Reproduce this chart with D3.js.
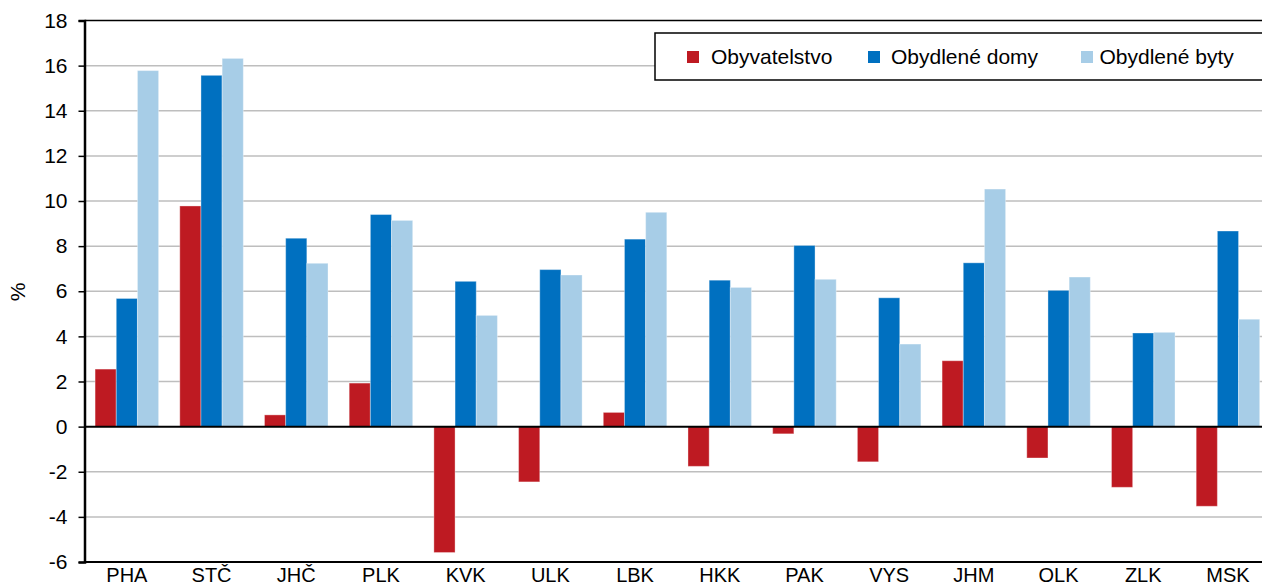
<!DOCTYPE html>
<html>
<head>
<meta charset="utf-8">
<script src="https://cdn.jsdelivr.net/npm/d3@7"></script>
<style>
  body { margin: 0; background: #fff; }
  text { font-family: "Liberation Sans", Arial, sans-serif; fill: #000; }
</style>
</head>
<body>
<div class="render"></div>
<script>
// kraje
var categories = ["PHA", "STČ", "JHČ", "PLK", "KVK", "ULK", "LBK", "HKK", "PAK", "VYS", "JHM", "OLK", "ZLK", "MSK"];
var seriesNames = ["Obyvatelstvo", "Obydlené domy", "Obydlené byty"];
var obyvatelstvo = [2.55, 9.78, 0.52, 1.93, -5.58, -2.45, 0.63, -1.76, -0.32, -1.56, 2.92, -1.39, -2.69, -3.53];
var domy = [5.68, 15.57, 8.35, 9.4, 6.44, 6.96, 8.31, 6.49, 8.03, 5.71, 7.26, 6.04, 4.15, 8.67];
var byty = [15.78, 16.32, 7.24, 9.14, 4.93, 6.72, 9.5, 6.17, 6.53, 3.66, 10.53, 6.63, 4.18, 4.76];
var yTicks = [-6, -4, -2, 0, 2, 4, 6, 8, 10, 12, 14, 16, 18];
var colors = ["#BE1A22", "#0070C0", "#A7CDE7"];

var width = 1262, height = 587;
var left = 84.5, top_ = 20.5, bottom = 562;
var bandW = 84.7;
var fontSize = "21px";

var svg = d3.select(".render").append("svg")
    .attr("width", width)
    .attr("height", height);

var x = d3.scaleBand()
    .domain(categories)
    .range([left, left + bandW * categories.length])
    .paddingInner(0.25)
    .paddingOuter(0.125);

var xs = d3.scaleBand()
    .domain(seriesNames)
    .range([0, x.bandwidth()]);

var y = d3.scaleLinear()
    .domain([-6, 18])
    .range([bottom, top_]);

// grid
svg.append("g")
  .selectAll("line")
  .data(yTicks.filter(function (d) { return d !== 0 && d !== -6 && d !== 18; }))
  .enter().append("line")
    .attr("x1", left)
    .attr("x2", width)
    .attr("y1", function (d) { return y(d); })
    .attr("y2", function (d) { return y(d); })
    .attr("stroke", "#BEBEBE")
    .attr("stroke-width", 1.5);

// top border
svg.append("line")
    .attr("x1", left).attr("x2", width)
    .attr("y1", y(18)).attr("y2", y(18))
    .attr("stroke", "#000").attr("stroke-width", 1.5);

// bars
var data = categories.map(function (c, i) {
    return { cat: c, values: [obyvatelstvo[i], domy[i], byty[i]] };
});

var groups = svg.append("g").selectAll("g")
    .data(data)
    .enter().append("g")
    .attr("transform", function (d) { return "translate(" + x(d.cat) + ",0)"; });

groups.selectAll("rect")
    .data(function (d) {
        return d.values.map(function (v, k) { return { key: seriesNames[k], value: v, k: k }; });
    })
    .enter().append("rect")
    .attr("x", function (d) { return xs(d.key); })
    .attr("width", xs.bandwidth())
    .attr("y", function (d) { return y(Math.max(0, d.value)); })
    .attr("height", function (d) { return Math.abs(y(d.value) - y(0)); })
    .attr("fill", function (d) { return colors[d.k]; })
    .attr("stroke", "#fff")
    .attr("stroke-opacity", 0.35)
    .attr("stroke-width", 1);

// zero line
svg.append("line")
    .attr("x1", left).attr("x2", width)
    .attr("y1", y(0)).attr("y2", y(0))
    .attr("stroke", "#000").attr("stroke-width", 2);

// y axis (plain hyphen for negatives, like the original)
var yAxis = svg.append("g")
    .attr("transform", "translate(" + left + ",0)")
    .call(d3.axisLeft(y).tickValues(yTicks).tickSize(6).tickPadding(11)
        .tickFormat(function (d) { return String(d); }));
yAxis.select(".domain").attr("stroke", "#000").attr("stroke-width", 2.5);
yAxis.selectAll(".tick line").attr("stroke", "#000").attr("stroke-width", 1.5);
yAxis.selectAll("text").style("font-size", fontSize).attr("fill", "#000")
    .style("font-family", "'Liberation Sans', Arial, sans-serif");

// x axis (labels kept just inside the bottom edge)
var xAxis = svg.append("g")
    .attr("transform", "translate(0," + bottom + ")")
    .call(d3.axisBottom(x).tickSize(0).tickPadding(6));
xAxis.select(".domain").remove();
svg.append("line")
    .attr("x1", left).attr("x2", width)
    .attr("y1", bottom).attr("y2", bottom)
    .attr("stroke", "#000").attr("stroke-width", 2);
xAxis.selectAll("text").style("font-size", "20px").attr("fill", "#000")
    .style("font-family", "'Liberation Sans', Arial, sans-serif");

// y label
svg.append("text")
    .attr("transform", "translate(25,292) rotate(-90)")
    .attr("text-anchor", "middle")
    .style("font-size", fontSize)
    .text("%");

// legend
var legend = svg.append("g");
legend.append("rect")
    .attr("x", 655).attr("y", 33)
    .attr("width", 640).attr("height", 47)
    .attr("fill", "#fff")
    .attr("stroke", "#000").attr("stroke-width", 1.5);

var legX = [687, 868, 1081];
var items = legend.selectAll("g.item")
    .data(seriesNames)
    .enter().append("g")
    .attr("class", "item")
    .attr("transform", function (d, i) { return "translate(" + legX[i] + ",51)"; });
items.append("rect")
    .attr("width", 12).attr("height", 12)
    .attr("fill", function (d, i) { return colors[i]; });
items.append("text")
    .attr("x", function (d, i) { return i === 2 ? 18.5 : (i === 1 ? 23 : 24); })
    .attr("y", 12.5)
    .style("font-size", fontSize)
    .text(function (d) { return d; });
</script>
</body>
</html>
